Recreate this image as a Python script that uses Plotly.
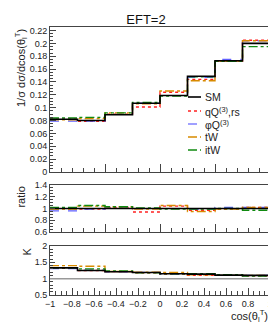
import plotly.graph_objects as go

# ---------------- data ----------------
bin_edges = [-1.0, -0.75, -0.5, -0.25, 0.0, 0.25, 0.5, 0.75, 1.0]
series_names = ["SM", "qQ<sup>(3)</sup>,rs", "φQ<sup>(3)</sup>", "tW", "itW"]

top_SM = [0.082, 0.080, 0.089, 0.107, 0.119, 0.149, 0.173, 0.200]
top_qQ = [0.082, 0.079, 0.090, 0.101, 0.124, 0.144, 0.172, 0.205]
top_phiQ = [0.079, 0.079, 0.090, 0.107, 0.119, 0.147, 0.175, 0.204]
top_tW = [0.081, 0.083, 0.092, 0.106, 0.126, 0.142, 0.172, 0.204]
top_itW = [0.084, 0.085, 0.092, 0.108, 0.118, 0.148, 0.172, 0.195]

ratio_SM = [1.00, 1.00, 1.00, 1.00, 1.00, 1.00, 1.00, 1.00]
ratio_qQ = [1.00, 0.99, 1.02, 0.94, 1.04, 0.97, 0.99, 1.02]
ratio_phiQ = [0.96, 0.99, 1.01, 1.00, 1.00, 0.99, 1.02, 1.02]
ratio_tW = [0.99, 1.04, 1.03, 0.99, 1.05, 0.95, 0.99, 1.02]
ratio_itW = [1.02, 1.05, 1.03, 1.01, 0.99, 0.99, 1.00, 0.97]

K_SM = [1.33, 1.25, 1.21, 1.19, 1.15, 1.14, 1.11, 1.10]
K_qQ = [1.32, 1.25, 1.22, 1.18, 1.14, 1.10, 1.10, 1.09]
K_phiQ = [1.31, 1.26, 1.21, 1.19, 1.14, 1.13, 1.11, 1.10]
K_tW = [1.40, 1.38, 1.22, 1.20, 1.19, 1.12, 1.10, 1.10]
K_itW = [1.33, 1.30, 1.24, 1.18, 1.15, 1.15, 1.12, 1.08]

x_tick_vals = [-1, -0.8, -0.6, -0.4, -0.2, 0, 0.2, 0.4, 0.6, 0.8, 1]
x_tick_text = ["−1", "−0.8", "−0.6", "−0.4", "−0.2", "0", "0.2", "0.4", "0.6", "0.8", "1"]

# ---------------- styles ----------------
colors = ["#000000", "#ff2020", "#6060ff", "#d88a00", "#108a10"]
dashes = ["solid", "dot", "dash", "dashdot", "dashdot"]
widths = [1.6, 1.4, 1.2, 1.4, 1.4]

FONT = "Liberation Sans, Arial, Helvetica, sans-serif"
W_PLOT, H_PLOT, L, B = 220.0, 268.0, 42.0, 43.0

top_sets = [top_SM, top_qQ, top_phiQ, top_tW, top_itW]
ratio_sets = [ratio_SM, ratio_qQ, ratio_phiQ, ratio_tW, ratio_itW]
K_sets = [K_SM, K_qQ, K_phiQ, K_tW, K_itW]

fig = go.Figure()

def add_steps(vals, i, xa, ya):
    fig.add_trace(go.Scatter(
        x=bin_edges, y=list(vals) + [vals[-1]],
        mode="lines", line=dict(shape="hv", color=colors[i], dash=dashes[i], width=widths[i]),
        name=series_names[i], showlegend=False, xaxis=xa, yaxis=ya,
        hoverinfo="skip"))

# draw order: EFT first, SM on top
order = [1, 2, 3, 4, 0]
for i in order:
    add_steps(top_sets[i], i, "x", "y")
for i in order:
    add_steps(ratio_sets[i], i, "x2", "y2")
for i in order:
    add_steps(K_sets[i], i, "x3", "y3")

axis_common = dict(showline=True, linecolor="#444", linewidth=1, mirror=True,
                   ticks="inside", tickcolor="#444", showgrid=False, zeroline=False,
                   tickfont=dict(size=9, color="#222", family=FONT))

xa_top = dict(axis_common, range=[-1, 1], dtick=0.5, tick0=-1, ticklen=8, showticklabels=False,
              minor=dict(dtick=0.1, ticklen=4, ticks="inside", tickcolor="#444"))

fig.update_layout(
    width=276, height=330,
    margin=dict(l=42, r=14, t=19, b=43),
    paper_bgcolor="white", plot_bgcolor="white",
    font=dict(family=FONT, color="#222"),
    title=dict(text="EFT=2", x=0.5, xref="container", xanchor="center",
               y=1 - 11 / 330, yanchor="middle", font=dict(size=13, color="#111")),
    xaxis=dict(xa_top, anchor="y", domain=[0, 1]),
    xaxis2=dict(xa_top, anchor="y2", domain=[0, 1], matches="x"),
    xaxis3=dict(axis_common, anchor="y3", domain=[0, 1], matches="x", range=[-1, 1],
                tickvals=x_tick_vals, ticktext=x_tick_text, ticklen=7,
                minor=dict(dtick=0.05, ticklen=4, ticks="inside", tickcolor="#444")),
    yaxis=dict(axis_common, domain=[0.459, 1.0], range=[0, 0.2255], dtick=0.02, ticklen=6,
               tickformat="~g",
               minor=dict(dtick=0.005, ticklen=3, ticks="inside", tickcolor="#444")),
    yaxis2=dict(axis_common, domain=[0.2351, 0.4104], range=[0.6, 1.4], dtick=0.2, ticklen=5,
                tickformat="~g",
                minor=dict(dtick=0.05, ticklen=3, ticks="inside", tickcolor="#444")),
    yaxis3=dict(axis_common, domain=[0.0, 0.1828], range=[0.5, 2.0], dtick=0.5, ticklen=5,
                tickformat="~g",
                minor=dict(dtick=0.1, ticklen=3, ticks="inside", tickcolor="#444")),
    showlegend=False,
)

# reference line at K=1
fig.add_shape(type="line", xref="x3 domain", yref="y3", x0=0, x1=1, y0=1, y1=1,
              line=dict(color="#999", width=1.5))

# manual ROOT-style legend (sample line + label)
legend_rows_px = [89, 103, 116, 129, 142]
for i, ypx in enumerate(legend_rows_px):
    yp = (330 - B - ypx) / H_PLOT
    fig.add_shape(type="line", xref="paper", yref="paper",
                  x0=(180 - L) / W_PLOT, x1=(193 - L) / W_PLOT, y0=yp, y1=yp,
                  line=dict(color=colors[i], dash=dashes[i], width=widths[i]))
    fig.add_annotation(text=series_names[i], xref="paper", yref="paper",
                       x=(195 - L) / W_PLOT, y=yp, xanchor="left", yanchor="middle",
                       showarrow=False, font=dict(size=10.5, family=FONT, color="#222"))

# axis titles (ROOT style, aligned to axis end)
fig.add_annotation(text="1/σ dσ/dcos(θ<sub>l</sub><sup>T</sup>)", textangle=-90,
                   xref="paper", yref="paper", x=(3 - L) / W_PLOT, y=1.0,
                   xanchor="left", yanchor="top", showarrow=False,
                   font=dict(size=11, family=FONT, color="#222"))
fig.add_annotation(text="ratio", textangle=-90,
                   xref="paper", yref="paper", x=(5 - L) / W_PLOT, y=0.41,
                   xanchor="left", yanchor="top", showarrow=False,
                   font=dict(size=11, family=FONT, color="#222"))
fig.add_annotation(text="K", textangle=-90,
                   xref="paper", yref="paper", x=(11 - L) / W_PLOT, y=0.185,
                   xanchor="left", yanchor="top", showarrow=False,
                   font=dict(size=11, family=FONT, color="#222"))
fig.add_annotation(text="cos(θ<sub>l</sub><sup>T</sup>)",
                   xref="paper", yref="paper", x=1.0, y=(330 - B - 308) / H_PLOT,
                   xanchor="right", yanchor="middle", showarrow=False,
                   font=dict(size=11, family=FONT, color="#222"))

fig.write_html("out.html")
